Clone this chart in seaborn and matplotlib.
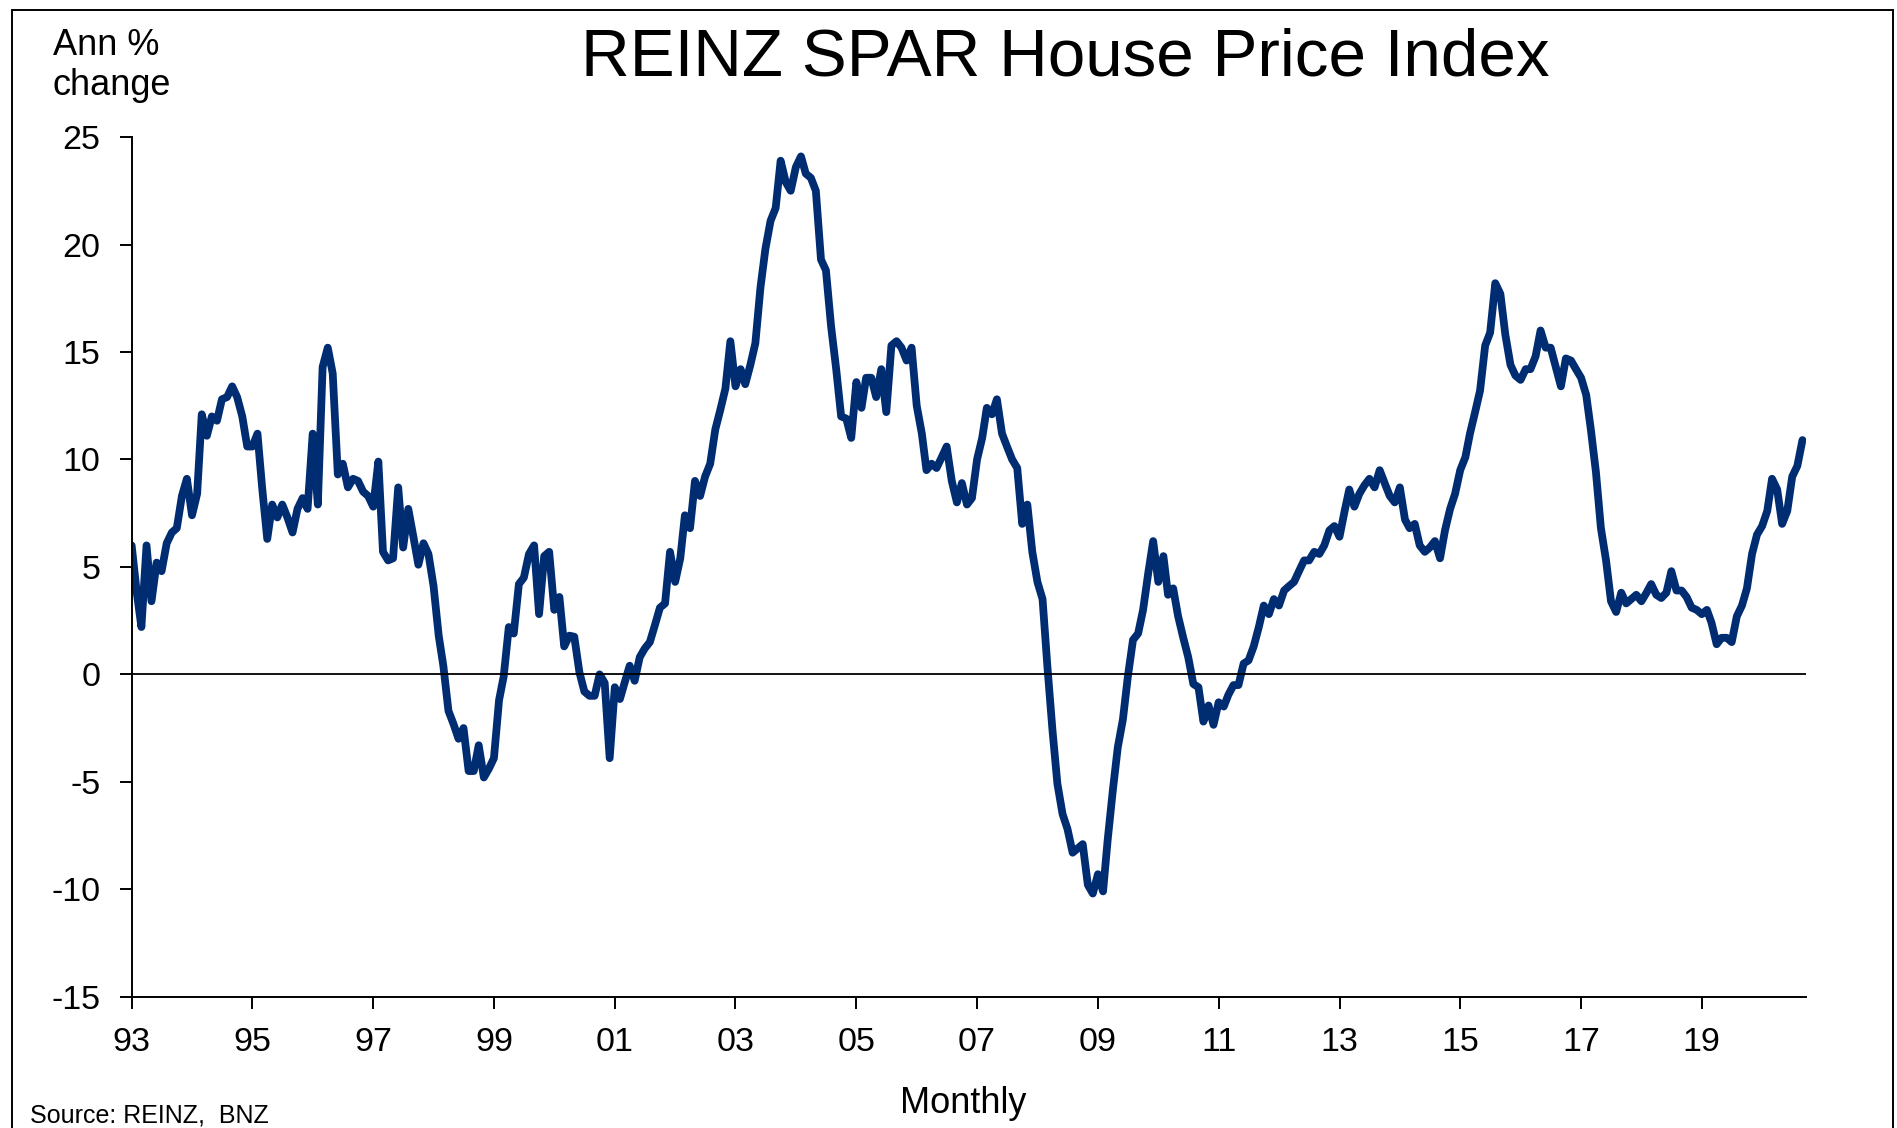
import pandas as pd
import matplotlib.pyplot as plt
from matplotlib.patches import Rectangle
import seaborn as sns

# ==================== 数据 (REINZ SPAR HPI, annual % change, monthly) ====================
start_month = "1993-01-01"
ann_change = [
    6.0, 3.8, 2.2, 6.0, 3.4, 5.2, 4.8, 6.1, 6.6, 6.8, 8.3, 9.1,            # 1993
    7.4, 8.4, 12.1, 11.1, 12.0, 11.8, 12.8, 12.9, 13.4, 12.9, 12.0, 10.6,  # 1994
    10.6, 11.2, 8.7, 6.3, 7.9, 7.3, 7.9, 7.3, 6.6, 7.7, 8.2, 7.7,          # 1995
    11.2, 7.9, 14.3, 15.2, 14.0, 9.3, 9.8, 8.7, 9.1, 9.0, 8.5, 8.3,        # 1996
    7.8, 9.9, 5.7, 5.3, 5.4, 8.7, 5.9, 7.7, 6.4, 5.1, 6.1, 5.6,            # 1997
    4.1, 1.8, 0.4, -1.7, -2.3, -3.0, -2.5, -4.5, -4.5, -3.3, -4.8, -4.4,   # 1998
    -3.9, -1.2, -0.1, 2.2, 1.9, 4.2, 4.5, 5.6, 6.0, 2.8, 5.5, 5.7,         # 1999
    3.0, 3.6, 1.3, 1.8, 1.75, 0.1, -0.8, -1.0, -1.0, 0.0, -0.4, -3.9,      # 2000
    -0.6, -1.15, -0.4, 0.4, -0.3, 0.8, 1.2, 1.5, 2.3, 3.1, 3.3, 5.7,       # 2001
    4.3, 5.4, 7.4, 6.8, 9.0, 8.3, 9.2, 9.8, 11.4, 12.3, 13.3, 15.5,        # 2002
    13.4, 14.2, 13.5, 14.4, 15.4, 18.0, 19.8, 21.1, 21.7, 23.9, 22.9, 22.5,  # 2003
    23.6, 24.1, 23.3, 23.1, 22.5, 19.3, 18.8, 16.2, 14.2, 12.0, 11.9, 11.0,  # 2004
    13.6, 12.4, 13.8, 13.8, 12.9, 14.2, 12.2, 15.3, 15.5, 15.2, 14.6, 15.2,  # 2005
    12.5, 11.2, 9.5, 9.8, 9.6, 10.1, 10.6, 9.0, 8.0, 8.9, 7.9, 8.2,        # 2006
    10.0, 11.0, 12.4, 12.1, 12.8, 11.2, 10.6, 10.0, 9.6, 7.0, 7.9, 5.7,    # 2007
    4.3, 3.5, 0.4, -2.6, -5.1, -6.5, -7.2, -8.3, -8.1, -7.9, -9.8, -10.2,  # 2008
    -9.3, -10.1, -7.7, -5.4, -3.4, -2.1, -0.1, 1.6, 1.9, 3.0, 4.7, 6.2,    # 2009
    4.3, 5.5, 3.7, 4.0, 2.7, 1.7, 0.8, -0.45, -0.6, -2.2, -1.45, -2.35,    # 2010
    -1.3, -1.5, -0.95, -0.5, -0.5, 0.5, 0.65, 1.3, 2.2, 3.2, 2.8, 3.5,     # 2011
    3.2, 3.9, 4.1, 4.3, 4.8, 5.3, 5.3, 5.7, 5.6, 6.0, 6.7, 6.9,            # 2012
    6.4, 7.6, 8.6, 7.8, 8.4, 8.8, 9.1, 8.7, 9.5, 8.9, 8.3, 8.0,            # 2013
    8.7, 7.2, 6.8, 7.0, 6.0, 5.7, 5.9, 6.2, 5.4, 6.7, 7.7, 8.4,            # 2014
    9.5, 10.1, 11.2, 12.2, 13.2, 15.3, 15.9, 18.2, 17.7, 15.8, 14.4, 13.9,  # 2015
    13.7, 14.2, 14.2, 14.8, 16.0, 15.2, 15.2, 14.3, 13.4, 14.7, 14.6, 14.2,  # 2016
    13.8, 13.0, 11.4, 9.4, 6.8, 5.3, 3.4, 2.9, 3.8, 3.3, 3.5, 3.7,         # 2017
    3.4, 3.8, 4.2, 3.7, 3.55, 3.8, 4.8, 3.9, 3.9, 3.6, 3.1, 3.0,           # 2018
    2.8, 3.0, 2.4, 1.4, 1.7, 1.7, 1.5, 2.7, 3.2, 4.0, 5.6, 6.5,            # 2019
    6.9, 7.6, 9.1, 8.6, 7.0, 7.6, 9.2, 9.7, 10.9,                          # 2020
]
tick_years = [1993, 1995, 1997, 1999, 2001, 2003, 2005, 2007, 2009, 2011, 2013, 2015, 2017, 2019]
tick_labels = ["93", "95", "97", "99", "01", "03", "05", "07", "09", "11", "13", "15", "17", "19"]
y_ticks = [-15, -10, -5, 0, 5, 10, 15, 20, 25]
y_tick_labels = ["-15", "-10", "-5", "0", "5", "10", "15", "20", "25"]

months = pd.date_range(start_month, periods=len(ann_change), freq="MS")
df = pd.DataFrame({"month": months, "change": ann_change})

# ==================== 绘图 ====================
sns.set_style("white")
plt.rcParams['font.family'] = ['Liberation Sans', 'DejaVu Sans']

fig = plt.figure(figsize=(18.97, 11.28), dpi=100)
ax = fig.add_axes([0.0694, 0.1164, 0.8826, 0.7621])

sns.lineplot(data=df, x="month", y="change", ax=ax,
             color="#002D72", linewidth=5.6, legend=False, zorder=2)
ax.axhline(0, color="black", linewidth=1.3, zorder=3)

ax.set_ylim(-15, 25)
ax.set_xlim(pd.Timestamp("1993-01-01"), pd.Timestamp("2020-09-22"))
ax.set_yticks(y_ticks)
ax.set_yticklabels(y_tick_labels)
ax.set_xticks([pd.Timestamp(f"{y}-01-01") for y in tick_years])
ax.set_xticklabels(tick_labels)
ax.set_xlabel("")
ax.set_ylabel("")

for side in ["top", "right"]:
    ax.spines[side].set_visible(False)
for side in ["left", "bottom"]:
    ax.spines[side].set_color("black")
    ax.spines[side].set_linewidth(1.4)

ax.tick_params(axis="both", which="major", bottom=True, left=True, direction="out",
               length=8.6, width=1.4, color="black", labelsize=24.5, labelcolor="black")
ax.tick_params(axis="y", pad=14)
ax.tick_params(axis="x", pad=13)

# 标题和文字
fig.text(0.5615, 1 - 76 / 1128, "REINZ SPAR House Price Index", ha="center", va="baseline",
         fontsize=48.5, color="black")
fig.text(53 / 1897, 1 - 28 / 1128, "Ann %\nchange", ha="left", va="top",
         fontsize=26, linespacing=1.18, color="black")
fig.text(0.5077, 1 - 1113 / 1128, "Monthly", ha="center", va="baseline",
         fontsize=26, color="black")
fig.text(30 / 1897, 1 - 1122 / 1128, "Source: REINZ,  BNZ", ha="left", va="baseline",
         fontsize=18, color="black")

# 外框
fig.add_artist(Rectangle((12 / 1897, -0.05), (1893 - 12) / 1897, (1128 - 10) / 1128 + 0.05,
                         transform=fig.transFigure, fill=False, edgecolor="black",
                         linewidth=1.4))

fig.savefig("out.png", dpi=100, facecolor="white")
